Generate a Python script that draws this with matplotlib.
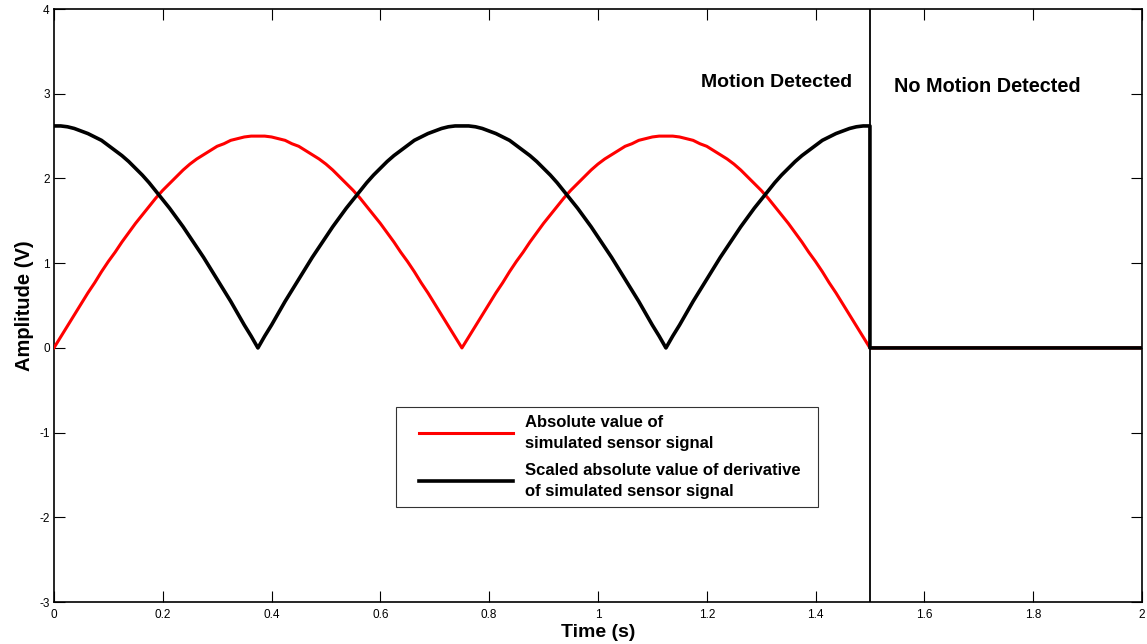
import numpy as np
import matplotlib
matplotlib.use("Agg")
import matplotlib.pyplot as plt
from matplotlib.legend_handler import HandlerLine2D

plt.rcParams['font.family'] = ['Liberation Sans', 'DejaVu Sans']
plt.rcParams['axes.unicode_minus'] = False

# time samples (s), 0 .. 1.5 every 0.0125 s
time_motion = np.round(np.arange(121) * 0.0125, 4)

# absolute value of simulated sensor signal (V)
red_motion = [0, 0.13, 0.26, 0.39, 0.52, 0.65, 0.77, 0.90, 1.02, 1.13, 1.25, 1.36, 1.47, 1.57, 1.67, 1.77,
              1.86, 1.94, 2.02, 2.10, 2.17, 2.23, 2.28, 2.33, 2.38, 2.41, 2.45, 2.47, 2.49, 2.50, 2.50,
              2.50, 2.49, 2.47, 2.45, 2.41, 2.38, 2.33, 2.28, 2.23, 2.17, 2.10, 2.02, 1.94, 1.86, 1.77,
              1.67, 1.57, 1.47, 1.36, 1.25, 1.13, 1.02, 0.90, 0.77, 0.65, 0.52, 0.39, 0.26, 0.13, 0,
              0.13, 0.26, 0.39, 0.52, 0.65, 0.77, 0.90, 1.02, 1.13, 1.25, 1.36, 1.47, 1.57, 1.67, 1.77,
              1.86, 1.94, 2.02, 2.10, 2.17, 2.23, 2.28, 2.33, 2.38, 2.41, 2.45, 2.47, 2.49, 2.50, 2.50,
              2.50, 2.49, 2.47, 2.45, 2.41, 2.38, 2.33, 2.28, 2.23, 2.17, 2.10, 2.02, 1.94, 1.86, 1.77,
              1.67, 1.57, 1.47, 1.36, 1.25, 1.13, 1.02, 0.90, 0.77, 0.65, 0.52, 0.39, 0.26, 0.13, 0]

# scaled absolute value of derivative of simulated sensor signal (V)
black_motion = [2.62, 2.62, 2.61, 2.59, 2.56, 2.53, 2.49, 2.45, 2.39, 2.33, 2.27, 2.20, 2.12, 2.04, 1.95, 1.85,
                1.75, 1.65, 1.54, 1.43, 1.31, 1.19, 1.07, 0.94, 0.81, 0.68, 0.55, 0.41, 0.27, 0.14, 0,
                0.14, 0.27, 0.41, 0.55, 0.68, 0.81, 0.94, 1.07, 1.19, 1.31, 1.43, 1.54, 1.65, 1.75, 1.85,
                1.95, 2.04, 2.12, 2.20, 2.27, 2.33, 2.39, 2.45, 2.49, 2.53, 2.56, 2.59, 2.61, 2.62, 2.62,
                2.62, 2.61, 2.59, 2.56, 2.53, 2.49, 2.45, 2.39, 2.33, 2.27, 2.20, 2.12, 2.04, 1.95, 1.85,
                1.75, 1.65, 1.54, 1.43, 1.31, 1.19, 1.07, 0.94, 0.81, 0.68, 0.55, 0.41, 0.27, 0.14, 0,
                0.14, 0.27, 0.41, 0.55, 0.68, 0.81, 0.94, 1.07, 1.19, 1.31, 1.43, 1.54, 1.65, 1.75, 1.85,
                1.95, 2.04, 2.12, 2.20, 2.27, 2.33, 2.39, 2.45, 2.49, 2.53, 2.56, 2.59, 2.61, 2.62, 2.62]

# no-motion segment
time_still = [1.5, 2.0]
red_still = [0, 0]
black_still = [0, 0]

t_all = list(time_motion) + time_still
red_all = red_motion + red_still
black_all = black_motion + black_still

boundary_t = 1.5
x_ticks = [0, 0.2, 0.4, 0.6, 0.8, 1, 1.2, 1.4, 1.6, 1.8, 2]
x_ticklabels = ['0', '0.2', '0.4', '0.6', '0.8', '1', '1.2', '1.4', '1.6', '1.8', '2']
y_ticks = [-3, -2, -1, 0, 1, 2, 3, 4]

fig = plt.figure(figsize=(11.47, 6.44), dpi=100)
ax = fig.add_axes([0.047, 0.065, 0.9486, 0.921])

ax.plot(t_all, red_all, color='#ff0000', lw=2.2, label='Absolute value of\nsimulated sensor signal', zorder=3)
ax.plot(t_all, black_all, color='black', lw=2.6, label='Scaled absolute value of derivative\nof simulated sensor signal', zorder=4)
ax.axvline(boundary_t, color='black', lw=1.3, zorder=5)

ax.set_xlim(0, 2)
ax.set_ylim(-3, 4)
ax.set_xticks(x_ticks)
ax.set_xticklabels(x_ticklabels)
ax.set_yticks(y_ticks)
ax.tick_params(direction='in', length=8, width=0.8, top=True, right=True, labelsize=8.5)
ax.tick_params(axis='x', pad=5)
ax.tick_params(axis='y', pad=3)
for s in ax.spines.values():
    s.set_linewidth(1.2)

ax.set_xlabel('Time (s)', fontsize=14, fontweight='bold', labelpad=2)
ax.set_ylabel('Amplitude (V)', fontsize=14.5, fontweight='bold', labelpad=4)

ax.text(1.467, 3.13, 'Motion Detected', fontsize=14, fontweight='bold', ha='right', va='center')
ax.text(1.544, 3.09, 'No Motion Detected', fontsize=14.3, fontweight='bold', ha='left', va='center')

hm = HandlerLine2D(xpad=0.95)
leg = ax.legend(loc='upper left', bbox_to_anchor=(0.314, 0.329, 0.388, 0.0), mode='expand',
                prop={'weight': 'bold', 'size': 12}, frameon=True, fancybox=False,
                edgecolor='black', handlelength=6.6, handletextpad=0.7, labelspacing=0.7,
                borderpad=0.45, borderaxespad=0,
                handler_map={plt.Line2D: hm})
for txt in leg.get_texts():
    txt.set_linespacing(1.55)
leg.get_frame().set_linewidth(0.8)

fig.savefig('out.png', dpi=100)
